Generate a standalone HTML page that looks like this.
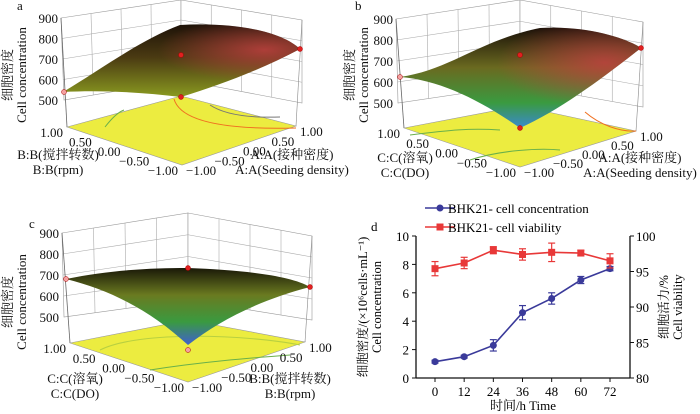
<!DOCTYPE html>
<html><head><meta charset="utf-8">
<style>
body{margin:0;background:#fff;}
svg{display:block;font-family:"Liberation Serif","Noto Serif CJK SC",serif;}
</style></head>
<body>
<svg id="fig" width="700" height="414" viewBox="0 0 700 414" xmlns="http://www.w3.org/2000/svg">
<defs>
<linearGradient id="gA" x1="0" y1="0" x2="0" y2="1"><stop offset="0" stop-color="#1e1208"/><stop offset="0.45" stop-color="#4a3a12"/><stop offset="1" stop-color="#8a9a20"/></linearGradient>
<radialGradient id="rA" cx="0.85" cy="0.35" r="0.45"><stop offset="0" stop-color="#c04040" stop-opacity="0.85"/><stop offset="1" stop-color="#c04040" stop-opacity="0"/></radialGradient>
<linearGradient id="gB" x1="0" y1="0" x2="0" y2="1"><stop offset="0" stop-color="#1a1008"/><stop offset="0.4" stop-color="#6a6a20"/><stop offset="0.75" stop-color="#3a9a40"/><stop offset="1" stop-color="#3a8ad0"/></linearGradient>
<linearGradient id="gC" x1="0" y1="0" x2="0" y2="1"><stop offset="0" stop-color="#1a1808"/><stop offset="0.35" stop-color="#6a7a20"/><stop offset="0.7" stop-color="#3a9a40"/><stop offset="1" stop-color="#4060d0"/></linearGradient>
</defs>
<g id="pa"></g>
<g id="pb"></g>
<g id="pc"></g>
<g id="pd"></g>
</svg>
<script>
const NS="http://www.w3.org/2000/svg";
function mk(p,tag,attrs,txt){const e=document.createElementNS(NS,tag);for(const k in attrs)e.setAttribute(k,attrs[k]);if(txt!==undefined)e.textContent=txt;p.appendChild(e);return e;}
function lerp(a,b,t){return [a[0]+(b[0]-a[0])*t,a[1]+(b[1]-a[1])*t];}
function pts(a){return a.map(p=>p.join(',')).join(' ');}

function panel3d(g,P){
  const LT=P.lt, BT=P.bt, RT=P.rt, LB=P.lb, BB=P.bb, RB=P.rb;
  const wl=mk(g,'polygon',{points:pts([LT,BT,BB,LB]),fill:'#fff',stroke:'#999','stroke-width':0.6});
  
  
  const wr=mk(g,'polygon',{points:pts([BT,RT,RB,BB]),fill:'#fff',stroke:'#999','stroke-width':0.6});
  
  
  for(let i=1;i<4;i++){const t=i/4;
    mk(g,'line',{x1:lerp(LT,LB,t)[0],y1:lerp(LT,LB,t)[1],x2:lerp(BT,BB,t)[0],y2:lerp(BT,BB,t)[1],stroke:'#aaa','stroke-width':0.6});
    mk(g,'line',{x1:lerp(BT,BB,t)[0],y1:lerp(BT,BB,t)[1],x2:lerp(RT,RB,t)[0],y2:lerp(RT,RB,t)[1],stroke:'#aaa','stroke-width':0.6});
  }
  for(let i=1;i<4;i++){const t=i/4;
    const a=lerp(LT,BT,t),b=lerp(LB,BB,t);mk(g,'line',{x1:a[0],y1:a[1],x2:b[0],y2:b[1],stroke:'#aaa','stroke-width':0.6});
    const c=lerp(BT,RT,t),d=lerp(BB,RB,t);mk(g,'line',{x1:c[0],y1:c[1],x2:d[0],y2:d[1],stroke:'#aaa','stroke-width':0.6});
  }
  mk(g,'line',{x1:LT[0],y1:LT[1],x2:P.fl[0],y2:P.fl[1],stroke:'#666','stroke-width':0.8});
  mk(g,'line',{x1:RT[0],y1:RT[1],x2:P.fr[0],y2:P.fr[1],stroke:'#888','stroke-width':0.6});
  const fl=mk(g,'polygon',{points:pts([P.fl,P.fb,P.fr,P.ff]),fill:'#ecec40',stroke:'#999','stroke-width':0.6});
  
  
  (P.contours||[]).forEach(c=>mk(g,'path',{d:c[0],fill:'none',stroke:c[1],'stroke-width':1}));
  const s=mk(g,'path',{d:P.surf,fill:P.fill,stroke:'none'});
  
  
  if(P.over) mk(g,'path',{d:P.surf,fill:P.over});
  (P.dots||[]).forEach(d=>{mk(g,'circle',{cx:d[0],cy:d[1],r:2.5,fill:d[2],stroke:'#a00','stroke-width':0.5});});
  const zl=['900','800','700','600','500'];
  zl.forEach((t,i)=>{const y=LT[1]+(P.z500-LT[1])*i/4;
    const e=mk(g,'text',{x:LT[0]-3,y:y+5,'font-size':13,'text-anchor':'end',fill:'#111'},t);
    
    });
  const ty=mk(g,'text',{transform:`translate(${P.zt[0]},${P.zt[1]}) rotate(-90)`,'font-size':13,'text-anchor':'middle',fill:'#111'});
  
  
  mk(ty,'tspan',{x:0,dy:0},'细胞密度');mk(ty,'tspan',{x:0,dy:14},'Cell concentration');
  const tk=['1.00','0.50','0.00','−0.50','−1.00'];
  tk.forEach((t,i)=>{const p=lerp(P.fl,P.ff,i/4);
    const e=mk(g,'text',{x:p[0]-4,y:p[1]+10,'font-size':13,'text-anchor':'end',fill:'#111'},t);
    
    const q=lerp(P.ff,P.fr,i/4);
    const f=mk(g,'text',{x:q[0]+4,y:q[1]+10,'font-size':13,'text-anchor':'start',fill:'#111'},tk[4-i]);
    });
  const lt=mk(g,'text',{x:P.lx[0],y:P.lx[1],'font-size':13,'text-anchor':'middle',fill:'#111'});
  
  mk(lt,'tspan',{x:P.lx[0],dy:0},P.ln[0]);mk(lt,'tspan',{x:P.lx[0],dy:15},P.ln[1]);
  const rt=mk(g,'text',{x:P.rx[0],y:P.rx[1],'font-size':13,'text-anchor':'middle',fill:'#111'});
  
  mk(rt,'tspan',{x:P.rx[0],dy:0},P.rn[0]);mk(rt,'tspan',{x:P.rx[0],dy:15},P.rn[1]);
  const lab=mk(g,'text',{x:P.lab[0],y:P.lab[1],'font-size':13,fill:'#111'},P.labt);
  
}

panel3d(document.getElementById('pa'),{
  lt:[61,18],bt:[181,0],rt:[302,20],lb:[64,100],bb:[181,80],rb:[302,103],z500:100,
  fl:[67,127],fb:[181,96],fr:[296,126],ff:[182,165],
  surf:'M63,92 C100,70 140,40 180,25 C230,22 280,30 300,49 C260,70 220,85 181,97 C140,92 100,90 63,92 Z',
  fill:'url(#gA)',over:'url(#rA)',
  contours:[['M174,99 C180,120 220,130 296,128','#f07020'],['M210,105 C225,115 250,118 280,117','#777'],['M105,127 C112,118 118,112 124,110','#6ab04a']],
  dots:[[64,92,'#f4a0a0'],[181,55,'#e02020'],[181,97,'#e02020'],[300,49,'#e02020']],
  zt:[12,75],lx:[58,159],ln:['B:B(搅拌转数)','B:B(rpm)'],rx:[292,159],rn:['A:A(接种密度)','A:A(Seeding density)'],
  lab:[17,10],labt:'a'});
panel3d(document.getElementById('pb'),{
  lt:[396,19],bt:[520,0],rt:[643,22],lb:[398,103],bb:[520,85],rb:[643,107],z500:103,
  fl:[404,128],fb:[520,106],fr:[636,131],ff:[520,167],
  surf:'M400,77 C450,70 480,40 540,28 C590,25 630,40 641,48 C600,80 560,110 520,128 C480,100 440,80 400,77 Z',
  fill:'url(#gB)',over:'url(#rA)',
  contours:[['M585,112 C600,125 620,132 636,131','#f07020'],['M410,135 C450,130 470,128 500,130','#6ab04a'],['M470,160 C500,150 540,148 560,150','#6ab04a']],
  dots:[[400,77,'#f4a0a0'],[520,55,'#e02020'],[520,128,'#e02020'],[641,48,'#e02020']],
  zt:[354,75],lx:[405,162],ln:['C:C(溶氧)','C:C(DO)'],rx:[640,162],rn:['A:A(接种密度)','A:A(Seeding density)'],
  lab:[355,10],labt:'b'});
panel3d(document.getElementById('pc'),{
  lt:[62,233],bt:[188,213],rt:[312,236],lb:[64,317],bb:[188,300],rb:[312,320],z500:317,
  fl:[70,343],fb:[188,320],fr:[305,342],ff:[188,382],
  surf:'M66,279 C110,270 150,268 188,268 C240,270 290,275 310,287 C260,300 220,320 188,345 C150,310 110,290 66,279 Z',
  fill:'url(#gC)',
  contours:[['M100,350 C140,330 250,335 300,345','#b8d040'],['M150,370 C200,362 250,358 290,355','#6ab04a']],
  dots:[[66,279,'#f4a0a0'],[188,268,'#e02020'],[188,350,'#f4a0a0'],[310,287,'#e02020']],
  zt:[12,302],lx:[75,383],ln:['C:C(溶氧)','C:C(DO)'],rx:[290,383],rn:['B:B(搅拌转数)','B:B(rpm)'],
  lab:[29,228],labt:'c'});

// ---------- panel d ----------
const times=[0,12,24,36,48,60,72];
const concVals=[1.15,1.5,2.3,4.6,5.6,6.9,7.7];
const concErr=[0.1,0.1,0.4,0.5,0.4,0.25,0.15];
const viabVals=[95.4,96.2,98.0,97.4,97.7,97.6,96.5];
const viabErr=[1.0,0.8,0.5,0.8,1.3,0.4,1.0];
const leftTicks=[0,2,4,6,8,10];
const rightTicks=[80,85,90,95,100];
const xTicks=[0,12,24,36,48,60,72];

(function(){
const g=document.getElementById('pd');
const X0=416,X1=630,Y0=378,Y1=236;
const xs=t=>435+(t-0)*(610-435)/72;
const yl=v=>Y0-(v-0)*(Y0-Y1)/10;
const yr=v=>Y0-(v-80)*(Y0-Y1)/20;
mk(g,'line',{x1:X0,y1:Y1,x2:X0,y2:Y0,stroke:'#111','stroke-width':1.3});
mk(g,'line',{x1:X1,y1:Y1,x2:X1,y2:Y0,stroke:'#111','stroke-width':1.3});
mk(g,'line',{x1:X0,y1:Y0,x2:X1,y2:Y0,stroke:'#111','stroke-width':1.3});
leftTicks.forEach(v=>{mk(g,'line',{x1:X0-4,y1:yl(v),x2:X0,y2:yl(v),stroke:'#111'});
  const e=mk(g,'text',{x:X0-7,y:yl(v)+5,'font-size':13,'text-anchor':'end'},v);
  });
rightTicks.forEach(v=>{mk(g,'line',{x1:X1,y1:yr(v),x2:X1+4,y2:yr(v),stroke:'#111'});
  const e=mk(g,'text',{x:X1+6,y:yr(v)+5,'font-size':13,'text-anchor':'start'},v);
  });
xTicks.forEach(v=>{mk(g,'line',{x1:xs(v),y1:Y0,x2:xs(v),y2:Y0+4,stroke:'#111'});
  const e=mk(g,'text',{x:xs(v),y:Y0+18,'font-size':13,'text-anchor':'middle'},v);
  });
function series(vals,err,ys,col,shape,name){
  const sg=mk(g,'g',{});
  
  
  mk(sg,'polyline',{points:vals.map((v,i)=>xs(times[i])+','+ys(v)).join(' '),fill:'none',stroke:col,'stroke-width':1.6});
  vals.forEach((v,i)=>{const x=xs(times[i]);
    mk(sg,'line',{x1:x,y1:ys(v-err[i]),x2:x,y2:ys(v+err[i]),stroke:col,'stroke-width':1.2});
    mk(sg,'line',{x1:x-3.5,y1:ys(v-err[i]),x2:x+3.5,y2:ys(v-err[i]),stroke:col,'stroke-width':1.2});
    mk(sg,'line',{x1:x-3.5,y1:ys(v+err[i]),x2:x+3.5,y2:ys(v+err[i]),stroke:col,'stroke-width':1.2});
    let m;
    if(shape==='c') m=mk(sg,'circle',{cx:x,cy:ys(v),r:3.5,fill:col});
    else m=mk(sg,'rect',{x:x-3.5,y:ys(v)-3.5,width:7,height:7,fill:col});
    
    });
}
series(concVals,concErr,yl,'#3a3a9a','c','cell-concentration-series');
series(viabVals,viabErr,yr,'#e83838','s','cell-viability-series');
const lg=mk(g,'g',{});


mk(lg,'line',{x1:425,y1:208,x2:455,y2:208,stroke:'#3a3a9a','stroke-width':1.6});
mk(lg,'circle',{cx:440,cy:208,r:3.5,fill:'#3a3a9a'});
mk(lg,'text',{x:448,y:213,'font-size':13},'BHK21- cell concentration');
mk(lg,'line',{x1:425,y1:227,x2:455,y2:227,stroke:'#e83838','stroke-width':1.6});
mk(lg,'rect',{x:436.5,y:223.5,width:7,height:7,fill:'#e83838'});
mk(lg,'text',{x:448,y:232,'font-size':13},'BHK21- cell viability');
const d=mk(g,'text',{x:371,y:231,'font-size':13},'d');

const yt=mk(g,'text',{transform:'translate(367,307) rotate(-90)','font-size':12.5,'text-anchor':'middle'});

mk(yt,'tspan',{x:0,dy:0},'细胞密度/(×10⁶cells·mL⁻¹)');mk(yt,'tspan',{x:0,dy:14},'Cell concentration');
const rt=mk(g,'text',{transform:'translate(668,307) rotate(-90)','font-size':12.5,'text-anchor':'middle'});

mk(rt,'tspan',{x:0,dy:0},'细胞活力/%');mk(rt,'tspan',{x:0,dy:14},'Cell viability');
const xt=mk(g,'text',{x:523,y:410,'font-size':13,'text-anchor':'middle'},'时间/h  Time');

})();
</script>
</body></html>
